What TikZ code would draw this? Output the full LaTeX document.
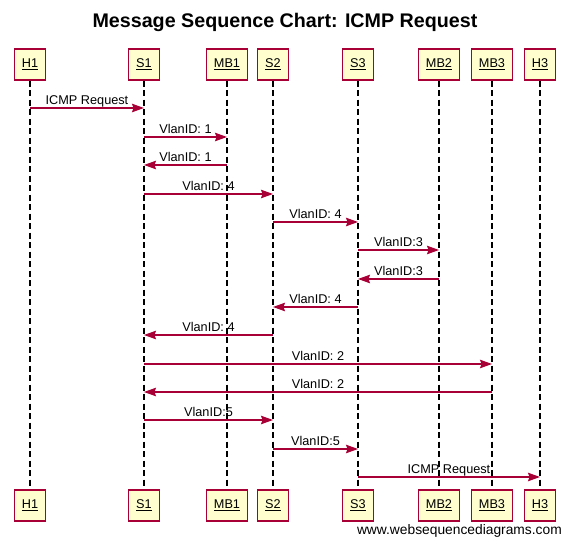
\documentclass[tikz,border=0pt]{standalone}
\usepackage{fontspec}
\setmainfont{Liberation Sans}
\usetikzlibrary{arrows.meta}
\definecolor{wsdred}{RGB}{168,0,54}
\definecolor{wsdyellow}{RGB}{254,254,206}

\begin{document}
\begin{tikzpicture} [x=1pt,y=-1pt,
            actor/.style={draw=wsdred,fill=wsdyellow,line width=1.5pt,rectangle,minimum height=31pt,inner xsep=7.5pt,font=\fontsize{12.7}{15}\selectfont},
            lifeline/.style={black,line width=1.2pt,dash pattern=on 6pt off 3.5pt},
            msg/.style={-{Stealth[length=12pt,width=8.5pt,inset=1.5pt]},wsdred,line width=1.2pt},
            lbl/.style={midway,anchor=base,yshift=3pt,inner sep=0pt,color=black,font=\fontsize{12.7}{15}\selectfont}]
\useasboundingbox (0,0) rectangle (571,545);
\node (title) at (285,28) [anchor=base,font=\fontsize{19.7}{24}\bfseries\selectfont] {Message Sequence Chart: ICMP Request};
%\tikzstyle{every node}=[draw,rectangle]
\node (H1) at (30,64.5) [actor] {\underline{H1}}
node (S1) at (144,64.5) [actor] {\underline{S1}}
node (MB1) at (227,64.5) [actor] {\underline{MB1}}
node (S2) at (273,64.5) [actor] {\underline{S2}}
node (S3) at (358,64.5) [actor] {\underline{S3}}
node (MB2) at (439,64.5) [actor] {\underline{MB2}}
node (MB3) at (492,64.5) [actor] {\underline{MB3}}
node (H3) at (540,64.5) [actor] {\underline{H3}}
 ;
\node (H1bot) at (30,505.5) [actor] {\underline{H1}}
node (S1bot) at (144,505.5) [actor] {\underline{S1}}
node (MB1bot) at (227,505.5) [actor] {\underline{MB1}}
node (S2bot) at (273,505.5) [actor] {\underline{S2}}
node (S3bot) at (358,505.5) [actor] {\underline{S3}}
node (MB2bot) at (439,505.5) [actor] {\underline{MB2}}
node (MB3bot) at (492,505.5) [actor] {\underline{MB3}}
node (H3bot) at (540,505.5) [actor] {\underline{H3}}
 ;
\node (www) at (562,535) [anchor=base east,inner sep=0pt,font=\fontsize{13.8}{16}\selectfont] {www.websequencediagrams.com};

\draw [lifeline] (H1.south) -- (H1bot.north);
\draw [lifeline] (S1.south) -- (S1bot.north);
\draw [lifeline] (MB1.south) -- (MB1bot.north);
\draw [lifeline] (S2.south) -- (S2bot.north);
\draw [lifeline] (S3.south) -- (S3bot.north);
\draw [lifeline] (MB2.south) -- (MB2bot.north);
\draw [lifeline] (MB3.south) -- (MB3bot.north);
\draw [lifeline] (H3.south) -- (H3bot.north);

\draw [msg] (H1 |- 0,108) -- node[lbl] {ICMP Request} (S1 |- 0,108);
\draw [msg] (S1 |- 0,137) -- node[lbl] {VlanID: 1} (MB1 |- 0,137);
\draw [msg] (MB1 |- 0,165) -- node[lbl] {VlanID: 1} (S1 |- 0,165);
\draw [msg] (S1 |- 0,194) -- node[lbl] {VlanID: 4} (S2 |- 0,194);
\draw [msg] (S2 |- 0,222) -- node[lbl] {VlanID: 4} (S3 |- 0,222);
\draw [msg] (S3 |- 0,250) -- node[lbl] {VlanID:3} (MB2 |- 0,250);
\draw [msg] (MB2 |- 0,279) -- node[lbl] {VlanID:3} (S3 |- 0,279);
\draw [msg] (S3 |- 0,307) -- node[lbl] {VlanID: 4} (S2 |- 0,307);
\draw [msg] (S2 |- 0,335) -- node[lbl] {VlanID: 4} (S1 |- 0,335);
\draw [msg] (S1 |- 0,364) -- node[lbl] {VlanID: 2} (MB3 |- 0,364);
\draw [msg] (MB3 |- 0,392) -- node[lbl] {VlanID: 2} (S1 |- 0,392);
\draw [msg] (S1 |- 0,420) -- node[lbl] {VlanID:5} (S2 |- 0,420);
\draw [msg] (S2 |- 0,449) -- node[lbl] {VlanID:5} (S3 |- 0,449);
\draw [msg] (S3 |- 0,477) -- node[lbl] {ICMP Request} (H3 |- 0,477);
\end{tikzpicture}
\end{document}
